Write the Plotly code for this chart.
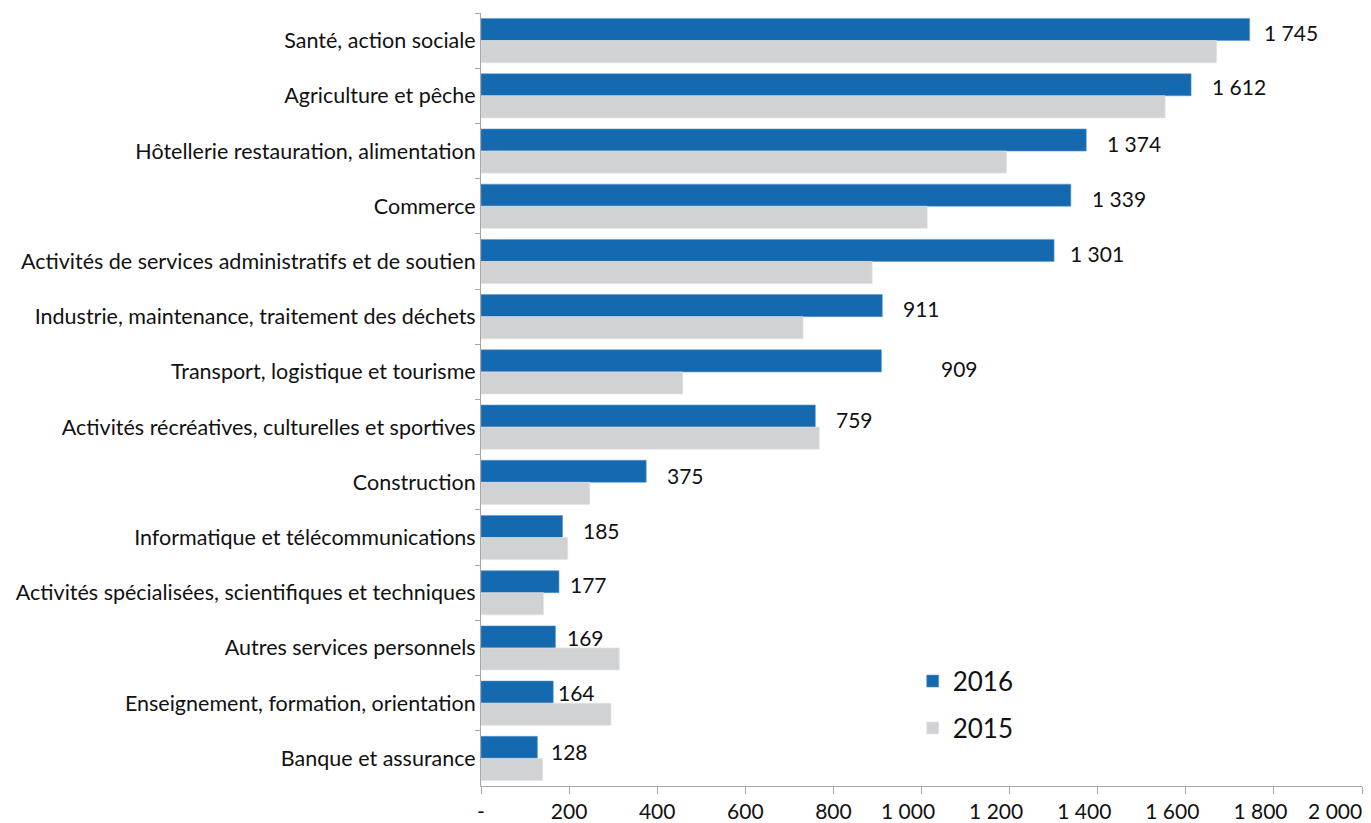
import plotly.graph_objects as go

categories = [
    "Santé, action sociale",
    "Agriculture et pêche",
    "Hôtellerie restauration, alimentation",
    "Commerce",
    "Activités de services administratifs et de soutien",
    "Industrie, maintenance, traitement des déchets",
    "Transport, logistique et tourisme",
    "Activités récréatives, culturelles et sportives",
    "Construction",
    "Informatique et télécommunications",
    "Activités spécialisées, scientifiques et techniques",
    "Autres services personnels",
    "Enseignement, formation, orientation",
    "Banque et assurance",
]
values_2016 = [1745, 1612, 1374, 1339, 1301, 911, 909, 759, 375, 185, 177, 169, 164, 128]
values_2015 = [1670, 1553, 1193, 1013, 888, 731, 458, 768, 247, 197, 142, 314, 295, 140]
x_ticks = [0, 200, 400, 600, 800, 1000, 1200, 1400, 1600, 1800, 2000]

# label nudges (pixels) to mimic the reference placement
label_dx = [12, 19, 19, 19, 14, 19, 58, 19, 19, 19, 9, 10, 3, 12]
label_dy = [8, 9, 8, 8, 8, 8, 3, 8, 7, 7, 8, 10, 11, 7]

BLUE = "#1569AE"
GREY = "#D1D2D4"
FONT = "Lato"
NB = "\u00a0"


def fmt(v):
    return "-" if v == 0 else f"{v:,}".replace(",", " ")


def tick_fmt(v):
    s = fmt(v)
    if v == x_ticks[-1]:
        return s + NB * 10
    return s + NB * 5 if v >= 1000 else s


fig = go.Figure()
fig.add_trace(go.Bar(
    y=categories, x=values_2016, orientation="h", name="2016",
    legendgroup="a",
    marker=dict(color=BLUE, line=dict(color="#5C9BD1", width=0.6)),
))
fig.add_trace(go.Bar(
    y=categories, x=values_2015, orientation="h", name="2015",
    legendgroup="b",
    marker=dict(color=GREY, line=dict(color="#E2E3E5", width=0.6)),
))

for cat, v, dx, dy in zip(categories, values_2016, label_dx, label_dy):
    fig.add_annotation(
        x=v, y=cat, text=fmt(v), showarrow=False, xanchor="left",
        xshift=dx, yshift=dy, font=dict(family=FONT, size=21, color="#111111"),
    )

# page body has an 8px margin, so the figure margins are shifted to compensate
fig.update_layout(
    width=1371, height=823,
    margin=dict(l=473, r=17, t=5, b=45, autoexpand=False),
    paper_bgcolor="white", plot_bgcolor="white",
    barmode="group", bargap=0.2, bargroupgap=0,
    font=dict(family=FONT, color="#111111"),
    showlegend=True,
    legend=dict(
        x=0.49, y=0.166, xanchor="left", yanchor="top",
        font=dict(family=FONT, size=26, color="#111111"),
        bgcolor="rgba(0,0,0,0)", traceorder="grouped", tracegroupgap=10,
    ),
    xaxis=dict(
        range=[0, 2000], tickvals=x_ticks, ticktext=[tick_fmt(t) for t in x_ticks],
        showgrid=False, zeroline=False, showline=True, linecolor="#A6A6A6",
        linewidth=1, ticks="outside", ticklen=7, tickcolor="#A6A6A6",
        automargin=False, ticklabeloverflow="allow", tickangle=0,
        tickfont=dict(family=FONT, size=21, color="#111111"),
    ),
    yaxis=dict(
        categoryorder="array", categoryarray=categories, autorange="reversed",
        showgrid=False, zeroline=False, showline=True, linecolor="#A6A6A6",
        linewidth=1, ticks="outside", ticklen=5, tickcolor="#A6A6A6",
        tickson="boundaries", automargin=False,
        tickfont=dict(family=FONT, size=21.5, color="#111111"),
    ),
)

fig.write_html("out.html")
